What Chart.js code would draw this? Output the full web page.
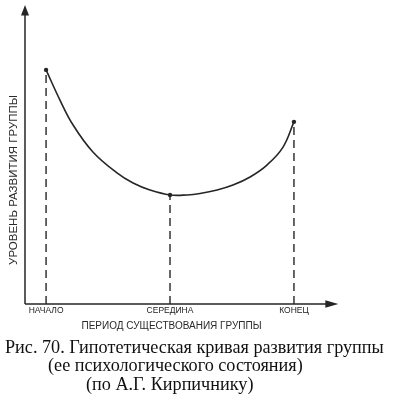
<!DOCTYPE html>
<html>
<head>
<meta charset="utf-8">
<script src="https://cdn.jsdelivr.net/npm/chart.js@4/dist/chart.umd.min.js"></script>
<style>
  html, body { margin: 0; padding: 0; background: #fff; }
  #wrap { position: relative; width: 393px; height: 400px; overflow: hidden; }
  #wrap canvas { position: absolute; left: 0; top: 0; }
  .cap { position: absolute; font-family: "Liberation Serif", "Times New Roman", serif; font-size: 18.2px; color: #111; white-space: nowrap; line-height: 18px; }
</style>
</head>
<body>
<div id="wrap">
  <canvas id="c" width="393" height="400"></canvas>
  <div class="cap" id="cap1" style="left:5px; top:338px;">Рис. 70. Гипотетическая кривая развития группы</div>
  <div class="cap" id="cap2" style="left:48px; top:356px;">(ее психологического состояния)</div>
  <div class="cap" id="cap3" style="left:86px; top:375px;">(по А.Г. Кирпичнику)</div>
</div>
<script>
// Categories (stages of the group's existence) and their positions on the time axis
const periods = ['НАЧАЛО', 'СЕРЕДИНА', 'КОНЕЦ'];
const periodX = [0, 50, 100];
const periodLevel = [80.7, 37.6, 62.8];

// Curve (time, level)
const curveX = [0, 5.6, 10.9, 18.9, 28.6, 35.1, 41.9, 50, 56.9, 62.1, 69, 75.4, 82.3, 89.1, 95.6, 100];
const curveLevel = [80.7, 70.3, 61.7, 52.4, 45.2, 41.7, 39.3, 37.6, 37.6, 38.1, 39.3, 41.0, 43.8, 47.9, 54.1, 62.8];

// Axis extents (including the arrow tips)
const xMin = -8.5, xMax = 109.7, xArrow = 117.9;
const yMin = 0, yMax = 85.5, yArrow = 103.1;

const xTitle = 'ПЕРИОД СУЩЕСТВОВАНИЯ ГРУППЫ';
const yTitle = 'УРОВЕНЬ РАЗВИТИЯ ГРУППЫ';

const ink = '#262626';

const curveData = curveX.map((x, i) => ({ x: x, y: curveLevel[i] }));
const dropDatasets = periodX.map((x, i) => ({
  type: 'line',
  data: [{ x: x, y: 0 }, { x: x, y: periodLevel[i] }],
  borderColor: ink,
  borderWidth: 1.4,
  borderDash: [8, 5],
  pointRadius: 0,
  tension: 0,
  clip: false
}));

const axesArrows = {
  id: 'axesArrows',
  afterDraw(chart) {
    const ctx = chart.ctx;
    const xs = chart.scales.x, ys = chart.scales.y;
    const x0 = xs.getPixelForValue(xMin);
    const y0 = ys.getPixelForValue(0);
    const xTip = xs.getPixelForValue(xArrow);
    const yTip = ys.getPixelForValue(yArrow);
    ctx.save();
    ctx.strokeStyle = ink;
    ctx.fillStyle = ink;
    ctx.lineWidth = 1.5;
    ctx.beginPath();
    ctx.moveTo(x0, y0);
    ctx.lineTo(xTip - 10, y0);
    ctx.moveTo(x0, y0);
    ctx.lineTo(x0, yTip + 8);
    ctx.stroke();
    // x arrow head
    ctx.beginPath();
    ctx.moveTo(xTip, y0);
    ctx.lineTo(xTip - 13, y0 - 3.8);
    ctx.lineTo(xTip - 13, y0 + 3.8);
    ctx.closePath();
    ctx.fill();
    // y arrow head
    ctx.beginPath();
    ctx.moveTo(x0, yTip);
    ctx.lineTo(x0 - 4, yTip + 10.5);
    ctx.lineTo(x0 + 4, yTip + 10.5);
    ctx.closePath();
    ctx.fill();
    ctx.restore();
  }
};

new Chart(document.getElementById('c'), {
  type: 'line',
  data: {
    datasets: [
      {
        data: curveData,
        borderColor: ink,
        borderWidth: 1.6,
        tension: 0.4,
        pointRadius: curveX.map(x => periodX.includes(x) ? 2.2 : 0),
        pointBackgroundColor: ink,
        pointBorderWidth: 0,
        clip: false
      },
      ...dropDatasets
    ]
  },
  options: {
    responsive: false,
    animation: false,
    devicePixelRatio: 1,
    layout: { padding: { top: 56, right: 75, bottom: 67.5, left: 0 } },
    plugins: { legend: { display: false }, tooltip: { enabled: false } },
    scales: {
      x: {
        type: 'linear',
        min: xMin,
        max: xMax,
        afterFit(scale) { scale.height = 28.5; },
        afterBuildTicks(scale) { scale.ticks = periodX.map(v => ({ value: v })); },
        grid: { display: false, drawTicks: false },
        border: { display: false },
        ticks: {
          padding: 2,
          autoSkip: false,
          maxRotation: 0,
          color: '#222',
          font: { family: 'Liberation Sans', size: 8.5 },
          callback: (v) => periods[periodX.indexOf(v)] ?? ''
        },
        title: {
          display: true,
          text: xTitle,
          color: '#2a2a2a',
          padding: { top: 0, bottom: 0 },
          font: { family: 'Liberation Sans', size: 10 }
        }
      },
      y: {
        type: 'linear',
        min: yMin,
        max: yMax,
        afterFit(scale) { scale.width = 25; },
        grid: { display: false, drawTicks: false },
        border: { display: false },
        ticks: { display: false },
        title: {
          display: true,
          text: yTitle,
          color: '#2a2a2a',
          padding: { top: 7, bottom: 0 },
          font: { family: 'Liberation Sans', size: 11.5 }
        }
      }
    }
  },
  plugins: [axesArrows]
});
</script>
</body>
</html>
